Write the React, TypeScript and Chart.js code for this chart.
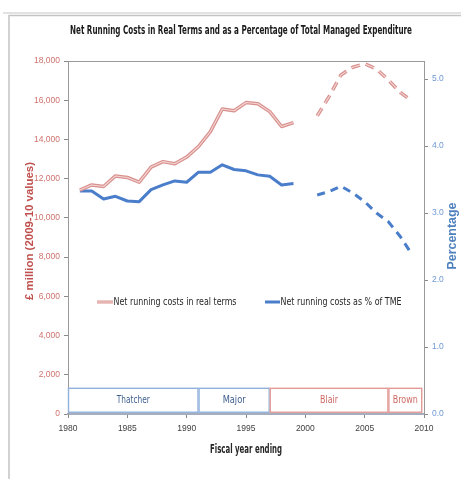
import React, { useEffect, useRef } from "react";
import { Chart, registerables } from "chart.js";

Chart.register(...registerables);

// ---------- data ----------
const solidYears = [1981, 1982, 1983, 1984, 1985, 1986, 1987, 1988, 1989, 1990, 1991, 1992, 1993, 1994, 1995, 1996, 1997, 1998, 1999];
const realTermsSolid = [11420, 11680, 11600, 12140, 12060, 11820, 12590, 12870, 12760, 13100, 13640, 14400, 15550, 15460, 15880, 15820, 15420, 14660, 14860];
const pctTmeSolid = [3.33, 3.33, 3.21, 3.25, 3.18, 3.17, 3.35, 3.42, 3.48, 3.46, 3.61, 3.61, 3.72, 3.65, 3.63, 3.57, 3.55, 3.42, 3.44];

const dashedYears = [2001, 2002, 2003, 2004, 2005, 2006, 2007, 2008, 2009];
const realTermsDashed = [15200, 16180, 17290, 17680, 17860, 17590, 17030, 16400, 15950];
const pctTmeDashed = [3.27, 3.32, 3.40, 3.30, 3.17, 3.00, 2.87, 2.65, 2.38];

const leftTicks = [0, 2000, 4000, 6000, 8000, 10000, 12000, 14000, 16000, 18000];
const rightTicks = [0, 1, 2, 3, 4, 5];
const xTicks = [1980, 1985, 1990, 1995, 2000, 2005, 2010];

const governments = ["Thatcher", "Major", "Blair", "Brown"];
const govStart = [1980, 1991, 1997, 2007];
const govEnd = [1991, 1997, 2007, 2009.85];
const govParty = ["con", "con", "lab", "lab"];

const legendLabels = ["Net running costs in real terms", "Net running costs as % of TME"];
const chartTitle = "Net Running Costs in Real Terms and as a Percentage of Total Managed Expenditure";
const leftTitle = "£ million (2009-10 values)";
const rightTitle = "Percentage";
const xTitle = "Fiscal year ending";

// ---------- styles ----------
const SANS = '"DejaVu Sans", "Liberation Sans", sans-serif';
const RED = "#d8918e";
const RED_HI = "#f4d6d5";
const BLUE = "#4a7ecb";

const toXY = (xs: number[], ys: number[]) => xs.map((x, i) => ({ x, y: ys[i] }));

// draw text squeezed horizontally to a target width (emulates a condensed face)
function fitText(ctx: any, text: string, x: number, y: number, font: string, targetW: number, align: "left" | "center") {
  ctx.save();
  ctx.font = font;
  ctx.textBaseline = "middle";
  ctx.textAlign = "left";
  const w = ctx.measureText(text).width;
  const k = targetW / w;
  ctx.translate(align === "center" ? x - targetW / 2 : x, y);
  ctx.scale(k, 1);
  ctx.fillText(text, 0, 0);
  ctx.restore();
}

const decorPlugin = {
  id: "decor",
  beforeDraw(chart: any) {
    const { ctx, width, height } = chart;
    ctx.save();
    ctx.fillStyle = "#ffffff";
    ctx.fillRect(0, 0, width, height);
    ctx.strokeStyle = "#e2e2e2";
    ctx.lineWidth = 2;
    ctx.beginPath();
    ctx.moveTo(3, 13);
    ctx.lineTo(width, 13);
    ctx.stroke();
    ctx.strokeStyle = "#c4c4c4";
    ctx.lineWidth = 1.5;
    ctx.beginPath();
    ctx.moveTo(9, height);
    ctx.lineTo(9, 15.5);
    ctx.lineTo(width, 15.5);
    ctx.stroke();
    ctx.restore();
  },
  beforeDatasetsDraw(chart: any) {
    const { ctx, chartArea } = chart;
    const xs = chart.scales.x;
    const ys = chart.scales.y;
    ctx.save();
    ctx.strokeStyle = "#9a9a9a";
    ctx.lineWidth = 1;
    ctx.beginPath();
    ctx.moveTo(chartArea.left, chartArea.top + 0.5);
    ctx.lineTo(chartArea.right, chartArea.top + 0.5);
    ctx.stroke();
    const yTop = ys.getPixelForValue(1310);
    const yBot = ys.getPixelForValue(90);
    const labelW = [33, 23, 18, 25];
    governments.forEach((g, i) => {
      const x1 = xs.getPixelForValue(govStart[i]);
      const x2 = xs.getPixelForValue(govEnd[i]);
      const con = govParty[i] === "con";
      ctx.fillStyle = "#ffffff";
      ctx.fillRect(x1, yTop, x2 - x1, yBot - yTop);
      ctx.strokeStyle = con ? "#8fb0dc" : "#e39a96";
      ctx.lineWidth = 1.4;
      ctx.strokeRect(x1 + 0.5, yTop, x2 - x1 - 1, yBot - yTop);
      ctx.fillStyle = con ? "#3f5f8f" : "#cf6a64";
      fitText(ctx, g, (x1 + x2) / 2, (yTop + yBot) / 2 + 0.5, `10px ${SANS}`, labelW[i], "center");
    });
    ctx.restore();
  },
  afterDraw(chart: any) {
    const { ctx } = chart;
    ctx.save();
    ctx.fillStyle = "#1a1a1a";
    fitText(ctx, chartTitle, 241, 31, `bold 12px ${SANS}`, 342, "center");
    ctx.fillStyle = "#262626";
    fitText(ctx, xTitle, 246, 450, `bold 12.5px ${SANS}`, 72, "center");
    // left title
    ctx.save();
    ctx.translate(30, 231);
    ctx.rotate(-Math.PI / 2);
    ctx.fillStyle = "#c0504d";
    fitText(ctx, leftTitle, 0, 0, `bold 10.5px "Liberation Sans", Arial, sans-serif`, 138, "center");
    ctx.restore();
    // right title
    ctx.save();
    ctx.translate(453, 236);
    ctx.rotate(-Math.PI / 2);
    ctx.fillStyle = "#4f81bd";
    fitText(ctx, rightTitle, 0, 0, `bold 12px "Liberation Sans", Arial, sans-serif`, 67, "center");
    ctx.restore();
    // legend
    const ly = 302;
    const drawSample = (x1: number, x2: number, color: string, hi: string | null) => {
      ctx.strokeStyle = color;
      ctx.lineWidth = 3;
      ctx.beginPath();
      ctx.moveTo(x1, ly);
      ctx.lineTo(x2, ly);
      ctx.stroke();
      if (hi) {
        ctx.strokeStyle = hi;
        ctx.lineWidth = 1;
        ctx.beginPath();
        ctx.moveTo(x1, ly);
        ctx.lineTo(x2, ly);
        ctx.stroke();
      }
    };
    drawSample(97, 113, RED, RED_HI);
    drawSample(265, 280, BLUE, null);
    ctx.fillStyle = "#262626";
    fitText(ctx, legendLabels[0], 113.5, ly, `11px ${SANS}`, 123, "left");
    fitText(ctx, legendLabels[1], 280.5, ly, `11px ${SANS}`, 121, "left");
    ctx.restore();
  },
};

export default function App() {
  const ref = useRef<HTMLCanvasElement | null>(null);
  useEffect(() => {
    if (!ref.current) return;
    const lineBase = { pointRadius: 0, pointHoverRadius: 0, tension: 0, fill: false, borderCapStyle: "butt", borderJoinStyle: "round" };
    const tickFont = { family: '"Liberation Sans", Arial, sans-serif', size: 8.5 };
    const chart = new Chart(ref.current, {
      type: "line",
      data: {
        datasets: [
          { ...lineBase, label: legendLabels[0], data: toXY(solidYears, realTermsSolid), yAxisID: "y", borderColor: RED, borderWidth: 3.5, order: 1 },
          { ...lineBase, label: legendLabels[0] + " hi", data: toXY(solidYears, realTermsSolid), yAxisID: "y", borderColor: RED_HI, borderWidth: 1.1, order: 0 },
          { ...lineBase, label: legendLabels[0] + " est", data: toXY(dashedYears, realTermsDashed), yAxisID: "y", borderColor: RED, borderWidth: 3.5, borderDash: [9, 6], order: 1 },
          { ...lineBase, label: legendLabels[0] + " est hi", data: toXY(dashedYears, realTermsDashed), yAxisID: "y", borderColor: RED_HI, borderWidth: 1.1, borderDash: [9, 6], order: 0 },
          { ...lineBase, label: legendLabels[1], data: toXY(solidYears, pctTmeSolid), yAxisID: "y1", borderColor: BLUE, borderWidth: 3, order: 1 },
          { ...lineBase, label: legendLabels[1] + " est", data: toXY(dashedYears, pctTmeDashed), yAxisID: "y1", borderColor: BLUE, borderWidth: 3, borderDash: [8, 6], order: 1 },
        ] as any,
      },
      options: {
        responsive: false,
        animation: false,
        devicePixelRatio: 1,
        layout: { padding: { top: 61, left: 0, right: 0, bottom: 0 } },
        plugins: { legend: { display: false }, tooltip: { enabled: false }, title: { display: false } },
        events: [],
        scales: {
          x: {
            type: "linear",
            min: 1980,
            max: 2010,
            afterBuildTicks: (s: any) => { s.ticks = xTicks.map((v) => ({ value: v })); },
            afterFit: (s: any) => { s.height = 65; },
            ticks: { color: "#404040", font: tickFont, padding: 6, maxRotation: 0, autoSkip: false, callback: (v: any) => String(v) },
            grid: { display: true, drawOnChartArea: false, drawTicks: true, tickLength: 4, color: "#8a8a8a" },
            border: { display: true, color: "#a6aebd", width: 2 },
          },
          y: {
            type: "linear",
            position: "left",
            min: 0,
            max: 18000,
            afterBuildTicks: (s: any) => { s.ticks = leftTicks.map((v) => ({ value: v })); },
            afterFit: (s: any) => { s.width = 68; },
            ticks: { color: "#d0736e", font: tickFont, padding: 4, callback: (v: any) => Number(v).toLocaleString("en-US") },
            grid: { display: true, drawOnChartArea: false, drawTicks: true, tickLength: 4, color: "#8a8a8a" },
            border: { display: true, color: "#9a9a9a", width: 1 },
          },
          y1: {
            type: "linear",
            position: "right",
            min: 0,
            max: 5.27,
            afterBuildTicks: (s: any) => { s.ticks = rightTicks.map((v) => ({ value: v })); },
            afterFit: (s: any) => { s.width = 37; },
            ticks: { color: "#6e98d3", font: tickFont, padding: 4, callback: (v: any) => Number(v).toFixed(1) },
            grid: { display: true, drawOnChartArea: false, drawTicks: true, tickLength: 4, color: "#8a8a8a" },
            border: { display: true, color: "#9a9a9a", width: 1 },
          },
        },
      } as any,
      plugins: [decorPlugin],
    });
    return () => chart.destroy();
  }, []);
  return (
    <div style={{ position: "absolute", left: 0, top: 0, width: 461, height: 479 }}>
      <canvas ref={ref} width={461} height={479} style={{ display: "block", width: 461, height: 479 }} />
    </div>
  );
}
